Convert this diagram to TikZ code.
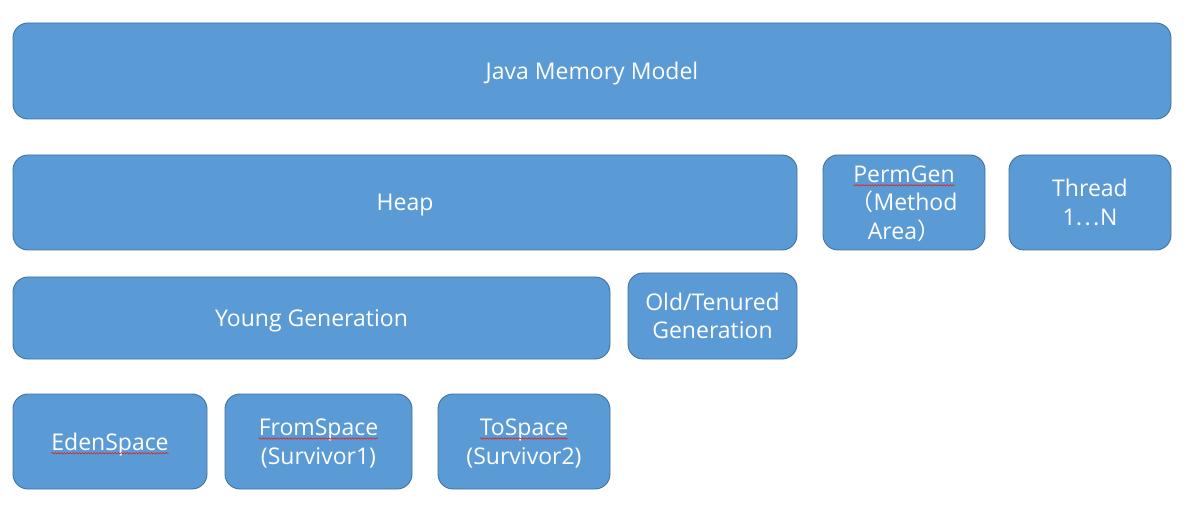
\documentclass[tikz,border=0pt]{standalone}
\usepackage{fontspec}
\setmainfont{Open Sans}
\newfontfamily\cjk{Noto Sans CJK SC}
\usetikzlibrary{decorations.pathmorphing}
\definecolor{boxfill}{RGB}{91,155,213}
\definecolor{boxline}{RGB}{65,113,156}
\definecolor{squig}{RGB}{230,30,30}
\tikzset{
  membox/.style={draw=boxline, fill=boxfill, line width=0.9pt, rounded corners=15pt,
    text=white, align=center, inner sep=0pt, text depth=0pt,
    font=\fontsize{23}{28.5}\selectfont},
  wavy/.style={draw=squig, line width=0.6pt, rounded corners=0pt, decorate,
    decoration={snake, segment length=3pt, amplitude=0.7pt}}
}
\newcommand\redwave[1]{\tikz[baseline=(w.base)]{\node[inner sep=0pt, outer sep=0pt, draw=none, fill=none, minimum width=0pt, minimum height=0pt, text depth=, rounded corners=0pt, text=white, anchor=base] (w) at (0pt,0pt) {#1}; \path[wavy] ([yshift=-3pt]w.base west) -- ([yshift=-3pt]w.base east);}}
\begin{document}
\begin{tikzpicture}[x=1pt,y=-1pt]
\useasboundingbox (0,0) rectangle (1196,518);
\node[membox, minimum width=1158pt, minimum height=96pt] (jmm) at (592,71) {Java Memory Model};
\node[membox, minimum width=784pt, minimum height=95pt] (heap) at (405,202.5) {Heap};
\node[membox, minimum width=162pt, minimum height=95pt] (perm) at (904,202.5) {\redwave{PermGen}\\{\cjk （}Method\\Area{\cjk ）}};
\node[membox, minimum width=162pt, minimum height=95pt] (thread) at (1090,202.5) {Thread\\1{\cjk ⋯}N};
\node[membox, minimum width=597pt, minimum height=82pt] (young) at (311.5,318) {Young Generation};
\node[membox, minimum width=169pt, minimum height=86pt] (old) at (712.5,316) {Old/Tenured\\Generation};
\node[membox, minimum width=194pt, minimum height=95pt] (eden) at (110,441.5) {\redwave{EdenSpace}};
\node[membox, minimum width=187pt, minimum height=95pt] (from) at (318.5,441.5) {\redwave{FromSpace}\\(Survivor1)};
\node[membox, minimum width=172pt, minimum height=95pt] (to) at (524,441.5) {\redwave{ToSpace}\\(Survivor2)};
\end{tikzpicture}
\end{document}
